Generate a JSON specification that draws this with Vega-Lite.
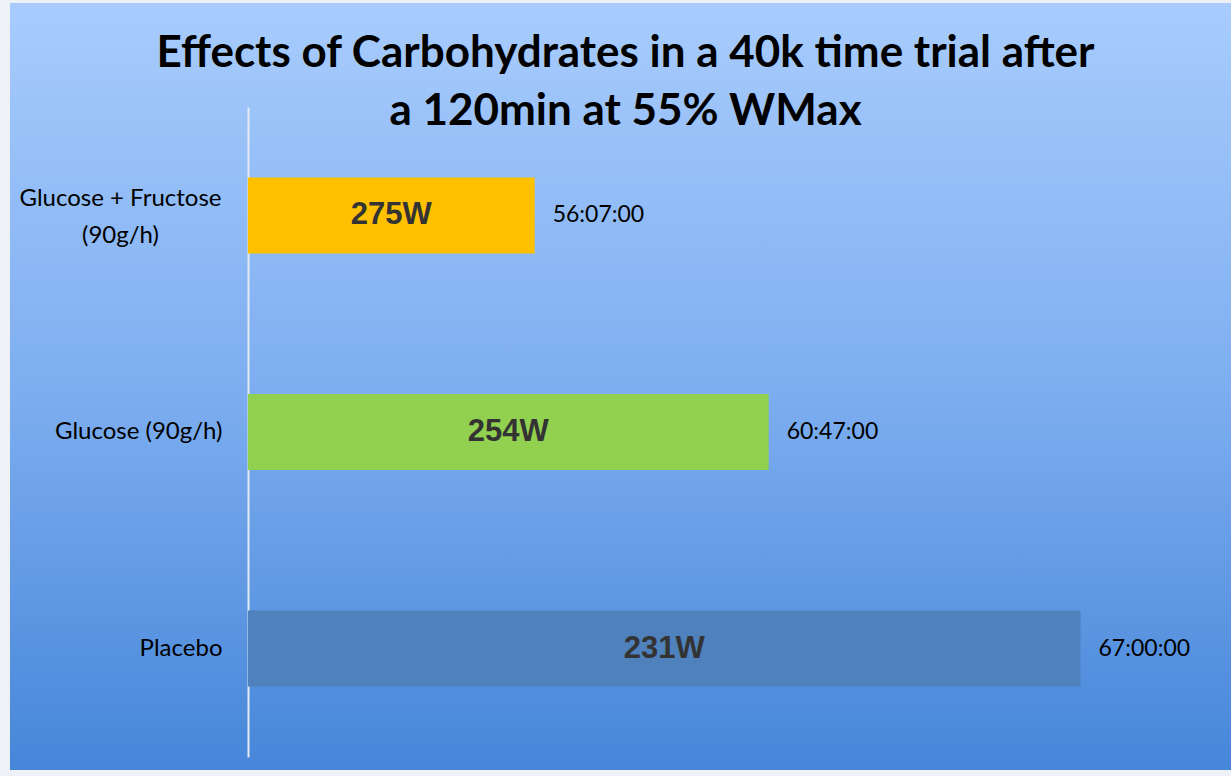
{
  "$schema": "https://vega.github.io/schema/vega-lite/v6.json",
  "width": 1221,
  "height": 767,
  "autosize": {"type": "none"},
  "padding": {"left": 10, "top": 3, "right": 0, "bottom": 6},
  "background": "#eef2f7",
  "view": {
    "stroke": null,
    "fill": {
      "gradient": "linear",
      "x1": 0, "y1": 0, "x2": 0, "y2": 1,
      "stops": [
        {"offset": 0, "color": "#a8ccfd"},
        {"offset": 0.5, "color": "#7eaef0"},
        {"offset": 1, "color": "#4686d9"}
      ]
    }
  },
  "title": {
    "text": ["Effects of Carbohydrates in a 40k time trial after", "a 120min at 55% WMax"],
    "font": "Lato",
    "fontSize": 44,
    "fontWeight": "bold",
    "color": "#000000",
    "anchor": "middle",
    "baseline": "top",
    "lineHeight": 58,
    "offset": -131,
    "dx": 5
  },
  "data": {
    "values": [
      {"drink": "Glucose + Fructose (90g/h)", "minutes": 56.117, "time": "56:07:00", "power": "275W"},
      {"drink": "Glucose (90g/h)", "minutes": 60.783, "time": "60:47:00", "power": "254W"},
      {"drink": "Placebo", "minutes": 67, "time": "67:00:00", "power": "231W"}
    ]
  },
  "encoding": {
    "y": {
      "field": "drink",
      "type": "nominal",
      "sort": null,
      "scale": {"range": [104, 754], "paddingInner": 0.649, "paddingOuter": 0.3256},
      "axis": {
        "title": null,
        "offset": -238,
        "ticks": false,
        "grid": false,
        "domainColor": "#e3e9f1",
        "domainWidth": 2,
        "labelFont": "Lato",
        "labelFontSize": 24,
        "labelColor": "#000000",
        "labelLimit": 400,
        "labelLineHeight": 37,
        "labelBaseline": "middle",
        "labelExpr": "datum.value == 'Glucose + Fructose (90g/h)' ? ['Glucose + Fructose', '(90g/h)'] : datum.value",
        "labelAlign": {"condition": {"test": "datum.value == 'Glucose + Fructose (90g/h)'", "value": "center"}, "value": "right"},
        "labelPadding": {"condition": {"test": "datum.value == 'Glucose + Fructose (90g/h)'", "value": 128}, "value": 26},
        "labelOffset": {"condition": {"test": "datum.value == 'Glucose + Fructose (90g/h)'", "value": -16}, "value": 0}
      }
    }
  },
  "layer": [
    {
      "mark": {"type": "bar"},
      "encoding": {
        "x": {"field": "minutes", "type": "quantitative", "scale": {"domain": [45.657, 70], "nice": false, "zero": false}, "axis": null},
        "x2": {"datum": 50.4},
        "color": {
          "field": "drink",
          "type": "nominal",
          "scale": {"domain": ["Glucose + Fructose (90g/h)", "Glucose (90g/h)", "Placebo"], "range": ["#ffc000", "#92d050", "#4f81bd"]},
          "legend": null
        }
      }
    },
    {
      "mark": {"type": "text", "align": "left", "baseline": "middle", "dx": 18, "font": "Lato", "fontSize": 23, "color": "#000000"},
      "encoding": {
        "x": {"field": "minutes", "type": "quantitative"},
        "text": {"field": "time"}
      }
    },
    {
      "transform": [{"calculate": "(datum.minutes + 50.4) / 2", "as": "mid"}],
      "mark": {"type": "text", "align": "center", "baseline": "middle", "font": "Liberation Sans", "fontSize": 31, "fontWeight": "bold", "color": "#333333"},
      "encoding": {
        "x": {"field": "mid", "type": "quantitative"},
        "text": {"field": "power"}
      }
    }
  ]
}
